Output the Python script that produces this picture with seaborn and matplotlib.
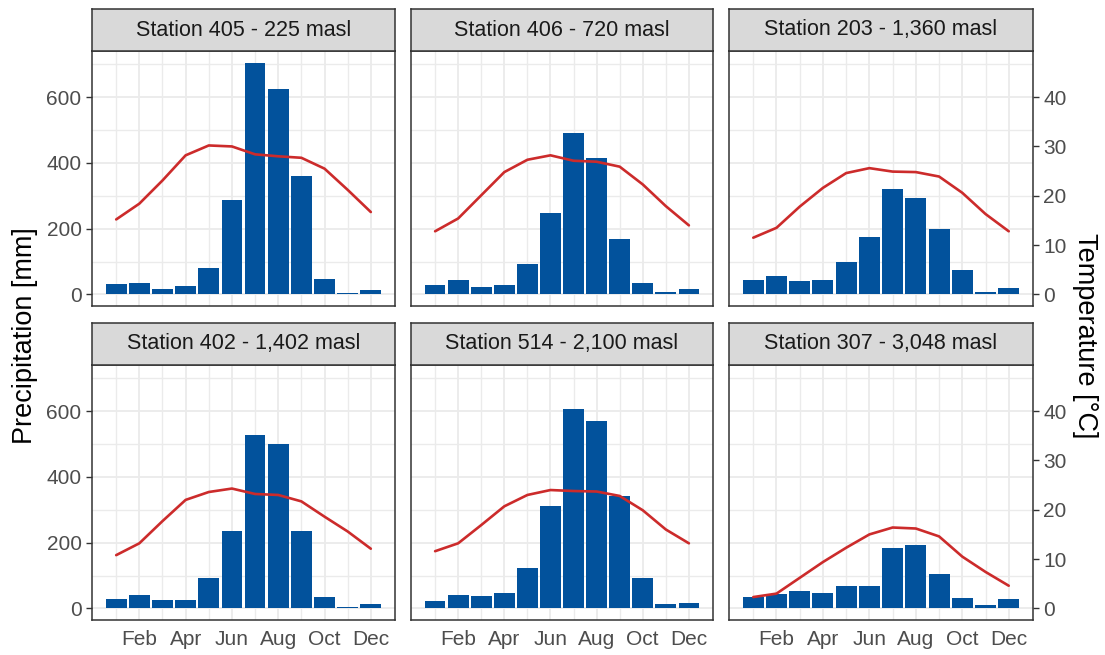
import numpy as np
import pandas as pd
import matplotlib
matplotlib.use("Agg")
import matplotlib.pyplot as plt
import seaborn as sns

# Monthly climate normals per station
MONTHS = list(range(1, 13))
TICK_MONTHS = [2, 4, 6, 8, 10, 12]
TICK_LABELS = ["Feb", "Apr", "Jun", "Aug", "Oct", "Dec"]

STATIONS = [
    "Station 405 - 225 masl",
    "Station 406 - 720 masl",
    "Station 203 - 1,360 masl",
    "Station 402 - 1,402 masl",
    "Station 514 - 2,100 masl",
    "Station 307 - 3,048 masl",
]

PRECIP_405 = [31, 36, 16, 25, 81, 288, 705, 624, 359, 48, 3, 14]
PRECIP_406 = [30, 43, 24, 30, 91, 248, 491, 415, 170, 36, 7, 16]
PRECIP_203 = [44, 57, 42, 44, 98, 176, 321, 293, 200, 74, 6, 21]
PRECIP_402 = [29, 41, 27, 26, 93, 234, 528, 500, 234, 36, 5, 12]
PRECIP_514 = [23, 41, 39, 47, 122, 311, 605, 571, 341, 91, 14, 15]
PRECIP_307 = [36, 44, 53, 47, 68, 68, 184, 193, 105, 31, 9, 29]

TEMP_405 = [15.2, 18.4, 23.1, 28.2, 30.2, 30.0, 28.4, 28.0, 27.7, 25.5, 21.2, 16.7]
TEMP_406 = [12.8, 15.4, 20.1, 24.8, 27.3, 28.2, 27.1, 26.9, 25.9, 22.3, 17.9, 14.0]
TEMP_203 = [11.5, 13.5, 17.8, 21.6, 24.6, 25.6, 24.9, 24.8, 23.9, 20.6, 16.3, 12.8]
TEMP_402 = [10.8, 13.2, 17.7, 22.0, 23.6, 24.3, 23.2, 23.0, 21.7, 18.6, 15.6, 12.1]
TEMP_514 = [11.6, 13.2, 16.9, 20.7, 23.0, 24.0, 23.8, 23.7, 22.8, 19.9, 16.0, 13.2]
TEMP_307 = [2.3, 3.0, 6.2, 9.4, 12.3, 15.0, 16.4, 16.2, 14.6, 10.5, 7.4, 4.6]

PRECIP = [PRECIP_405, PRECIP_406, PRECIP_203, PRECIP_402, PRECIP_514, PRECIP_307]
TEMP = [TEMP_405, TEMP_406, TEMP_203, TEMP_402, TEMP_514, TEMP_307]

SCALE = 15  # mm of precipitation per degree C on the secondary axis

frames = []
for name, p, t in zip(STATIONS, PRECIP, TEMP):
    frames.append(pd.DataFrame({"station": name, "month": MONTHS,
                                "precip": p, "temp": t}))
df = pd.concat(frames, ignore_index=True)

sns.set_theme(style="white")
plt.rcParams["font.family"] = ["Liberation Sans", "DejaVu Sans"]

BLUE = "#02529C"
RED = "#CC2B2B"
BORDER = "#333333"
GRID = "#EBEBEB"
TICKTXT = "#4D4D4D"
TICK_FS = 15

W, H = 1105, 655
fig = plt.figure(figsize=(W / 100, H / 100), dpi=100)
fig.patch.set_facecolor("white")

col_x = [(92, 395), (411, 713), (729, 1033)]
row_y = [(51, 306), (365, 620)]
strip_y = [(9, 51), (323, 365)]


def rect(x0, x1, y0, y1):
    return [x0 / W, 1 - y1 / H, (x1 - x0) / W, (y1 - y0) / H]


pmax = df["precip"].max()
ylim = (-0.05 * pmax, 1.05 * pmax)
xlim = (0.55 - 0.05 * 11.9, 12.45 + 0.05 * 11.9)

for i, name in enumerate(STATIONS):
    r, c = divmod(i, 3)
    sub = df[df["station"] == name]
    (x0, x1), (y0, y1) = col_x[c], row_y[r]
    ax = fig.add_axes(rect(x0, x1, y0, y1))
    ax.set_facecolor("white")
    ax.set_axisbelow(True)

    sns.barplot(data=sub, x="month", y="precip", native_scale=True,
                width=0.9, color=BLUE, saturation=1, linewidth=0, ax=ax)
    ax.set_xlim(*xlim)
    ax.set_ylim(*ylim)
    ax.set_xlabel("")
    ax.set_ylabel("")

    ax.set_yticks([0, 200, 400, 600])
    ax.set_yticks([100, 300, 500, 700], minor=True)
    ax.set_xticks(TICK_MONTHS)
    ax.set_xticklabels(TICK_LABELS)
    ax.set_xticks([1, 3, 5, 7, 9, 11], minor=True)
    ax.grid(True, which="major", color=GRID, lw=1.3)
    ax.grid(True, which="minor", color=GRID, lw=1.0)

    for sp in ax.spines.values():
        sp.set_visible(True)
        sp.set_color(BORDER)
        sp.set_linewidth(1.1)

    # temperature on a secondary scale
    tw = ax.twinx()
    sns.lineplot(data=sub, x="month", y="temp", color=RED, lw=1.9,
                 ax=tw, sort=False)
    tw.set_ylim(ylim[0] / SCALE, ylim[1] / SCALE)
    tw.set_xlim(*xlim)
    tw.set_ylabel("")
    tw.set_yticks([0, 10, 20, 30, 40])
    tw.grid(False)
    for sp in tw.spines.values():
        sp.set_visible(False)

    ax.tick_params(axis="both", which="major", direction="out", length=4.5,
                   width=1.0, color=BORDER, labelcolor=TICKTXT,
                   labelsize=TICK_FS, pad=3)
    ax.tick_params(axis="both", which="minor", length=0)
    ax.tick_params(axis="y", which="both", right=False, labelright=False)
    if c != 0:
        ax.tick_params(axis="y", which="both", left=False, labelleft=False)
    if r == 0:
        ax.tick_params(axis="x", which="both", bottom=False, labelbottom=False)

    tw.tick_params(axis="y", which="both", left=False, labelleft=False)
    if c == 2:
        tw.tick_params(axis="y", right=True, labelright=True, direction="out",
                       length=4.5, width=1.0, color=BORDER,
                       labelcolor=TICKTXT, labelsize=TICK_FS, pad=3)
    else:
        tw.tick_params(axis="y", which="both", right=False, labelright=False)
    tw.tick_params(axis="x", which="both", bottom=False, top=False,
                   labelbottom=False, labeltop=False)

    # facet strip
    sy0, sy1 = strip_y[r]
    sax = fig.add_axes(rect(x0, x1, sy0, sy1))
    sax.set_facecolor("#D9D9D9")
    sax.set_xticks([])
    sax.set_yticks([])
    for sp in sax.spines.values():
        sp.set_visible(True)
        sp.set_color(BORDER)
        sp.set_linewidth(1.1)
    sax.text(0.5, 0.5, name, ha="center", va="center", fontsize=15.5,
             color="#1A1A1A", transform=sax.transAxes)

fig.text(25 / W, 1 - 336 / H, "Precipitation [mm]", rotation=90,
         ha="center", va="center", fontsize=19.5, color="black")
fig.text(1085 / W, 1 - 336 / H, "Temperature [°C]", rotation=270,
         ha="center", va="center", fontsize=19.5, color="black")

fig.savefig("out.png", dpi=100, facecolor="white")
